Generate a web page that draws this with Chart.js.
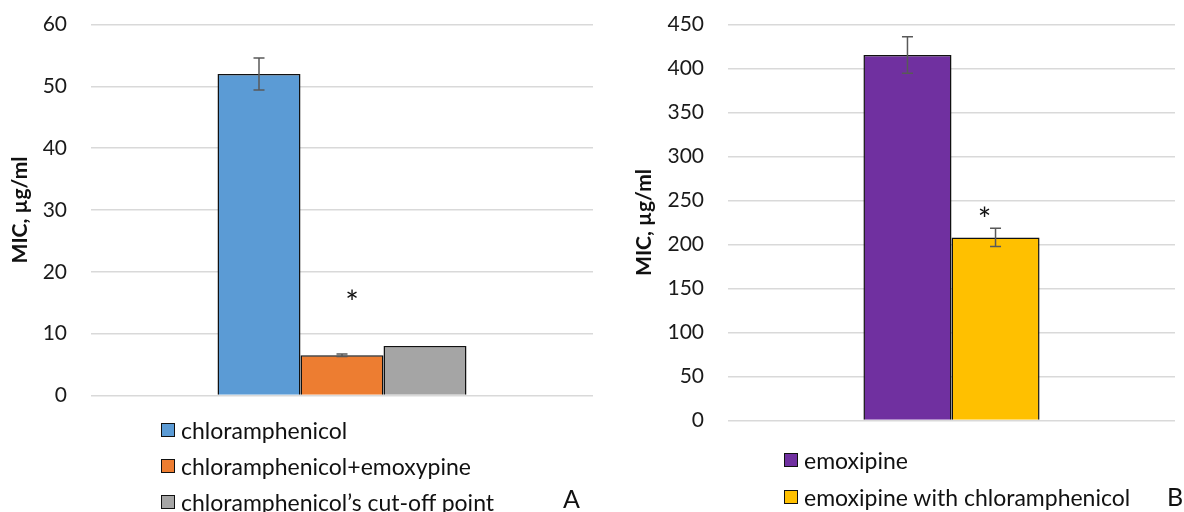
<!doctype html>
<html lang="en">
<head>
  <meta charset="utf-8" />
  <title>MIC charts</title>
  <script src="https://cdn.jsdelivr.net/npm/chart.js@4.4.1/dist/chart.umd.min.js"></script>
  <style>
    body {
      margin: 0;
      background: #ffffff;
      width: 1184px;
      height: 512px;
      position: relative;
      overflow: hidden;
      font-family: Lato, "Open Sans", sans-serif;
    }
    .box { position: absolute; top: -12px; }
    #boxA { left: 0; width: 600px; height: 444px; }
    #boxB { left: 600px; width: 584px; height: 469px; }
    .legend { position: absolute; margin: 0; padding: 0; list-style: none; }
    .legend li {
      display: flex;
      align-items: center;
      font-size: 23px;
      color: #111;
      white-space: nowrap;
    }
    .legend .sw {
      width: 12px;
      height: 12px;
      border: 1.5px solid #111;
      margin-right: 6px;
      flex: none;
    }
    #legendA { left: 161px; top: 412px; }
    #legendA li { height: 36px; }
    #legendB { left: 784px; top: 441px; }
    #legendB li { height: 37px; }
    .panel {
      position: absolute;
      font-size: 25px;
      color: #111;
    }
  </style>
</head>
<body>
  <div class="box" id="boxA"><canvas id="chartA"></canvas></div>
  <div class="box" id="boxB"><canvas id="chartB"></canvas></div>
  <ul class="legend" id="legendA"></ul>
  <ul class="legend" id="legendB"></ul>
  <div class="panel" style="left:563px; top:483px;">A</div>
  <div class="panel" style="left:1167px; top:481px;">B</div>

  <script>
    // Panel A data
    const seriesA = ["chloramphenicol", "chloramphenicol+emoxypine", "chloramphenicol’s cut-off point"];
    const valuesA = [52, 6.5, 8];
    const errorsA = [2.6, 0.2, null];
    const colorsA = ["#5b9bd5", "#ed7d31", "#a5a5a5"];
    const ticksA = { min: 0, max: 60, step: 10 };
    const starA = { dataset: 1, value: 15.9 };

    // Panel B data
    const seriesB = ["emoxipine", "emoxipine with chloramphenicol"];
    const valuesB = [415.5, 208];
    const errorsB = [20.7, 10.4];
    const colorsB = ["#7030a0", "#ffc000"];
    const ticksB = { min: 0, max: 450, step: 50 };
    const starB = { dataset: 1, value: 235 };

    const yTitle = "MIC, µg/ml";

    // error bars + significance star
    const extras = {
      id: "extras",
      afterDatasetsDraw(chart, args, opts) {
        const ctx = chart.ctx;
        const y = chart.scales.y;
        ctx.save();
        chart.data.datasets.forEach((ds, i) => {
          const err = ds.errors && ds.errors[0];
          if (!err) return;
          const bar = chart.getDatasetMeta(i).data[0];
          const v = ds.data[0];
          const top = y.getPixelForValue(v + err);
          const bot = y.getPixelForValue(v - err);
          ctx.strokeStyle = "#595959";
          ctx.lineWidth = 1.5;
          ctx.beginPath();
          ctx.moveTo(bar.x, top); ctx.lineTo(bar.x, bot);
          ctx.moveTo(bar.x - 5.5, top); ctx.lineTo(bar.x + 5.5, top);
          ctx.moveTo(bar.x - 5.5, bot); ctx.lineTo(bar.x + 5.5, bot);
          ctx.stroke();
        });
        if (opts.star) {
          const bar = chart.getDatasetMeta(opts.star.dataset).data[0];
          ctx.fillStyle = "#111";
          ctx.font = "32px Lato";
          ctx.textAlign = "center";
          ctx.textBaseline = "middle";
          ctx.fillText("*", bar.x + opts.dx, y.getPixelForValue(opts.star.value) + 7);
        }
        ctx.restore();
      }
    };

    function makeChart(id, series, values, errors, colors, ticks, star, dx, layout) {
      const datasets = series.map((name, i) => ({
        label: name,
        data: [values[i]],
        errors: [errors[i]],
        backgroundColor: colors[i],
        borderColor: "#111111",
        borderWidth: 1.5,
        borderSkipped: "bottom",
        barPercentage: 1,
        categoryPercentage: layout.cat
      }));
      return new Chart(document.getElementById(id), {
        type: "bar",
        data: { labels: [""], datasets },
        plugins: [extras],
        options: {
          responsive: true,
          maintainAspectRatio: false,
          animation: false,
          layout: {
            padding: { top: 11, right: layout.right, bottom: layout.bottom, left: 0 }
          },
          plugins: {
            legend: { display: false },
            tooltip: { enabled: false },
            extras: { star, dx }
          },
          scales: {
            x: { display: false },
            y: {
              min: ticks.min,
              max: ticks.max,
              afterFit: (s) => { s.width = layout.axisW; },
              ticks: {
                stepSize: ticks.step,
                padding: layout.tickPad,
                color: "#1a1a1a",
                font: { family: "Lato", size: 21 }
              },
              grid: { color: "#d9d9d9", lineWidth: 1.5, drawTicks: false },
              border: { display: false },
              title: {
                display: true,
                text: yTitle,
                color: "#111",
                font: { family: "Lato", size: 21, weight: "bold" },
                padding: { top: layout.titlePad, bottom: 0 }
              }
            }
          }
        }
      });
    }

    function fillLegend(chart, el) {
      chart.data.datasets.forEach((ds) => {
        const li = document.createElement("li");
        const sw = document.createElement("span");
        sw.className = "sw";
        sw.style.background = ds.backgroundColor;
        li.appendChild(sw);
        li.appendChild(document.createTextNode(ds.label));
        el.appendChild(li);
      });
    }

    const chartA = makeChart("chartA", seriesA, valuesA, errorsA, colorsA, ticksA, starA, 10,
      { cat: 0.496, right: 7, bottom: 5, axisW: 91, tickPad: 24, titlePad: 8 });
    const chartB = makeChart("chartB", seriesB, valuesB, errorsB, colorsB, ticksB, starB, -11,
      { cat: 0.394, right: 9, bottom: 6, axisW: 128, tickPad: 24, titlePad: 32 });

    fillLegend(chartA, document.getElementById("legendA"));
    fillLegend(chartB, document.getElementById("legendB"));
  </script>
</body>
</html>
